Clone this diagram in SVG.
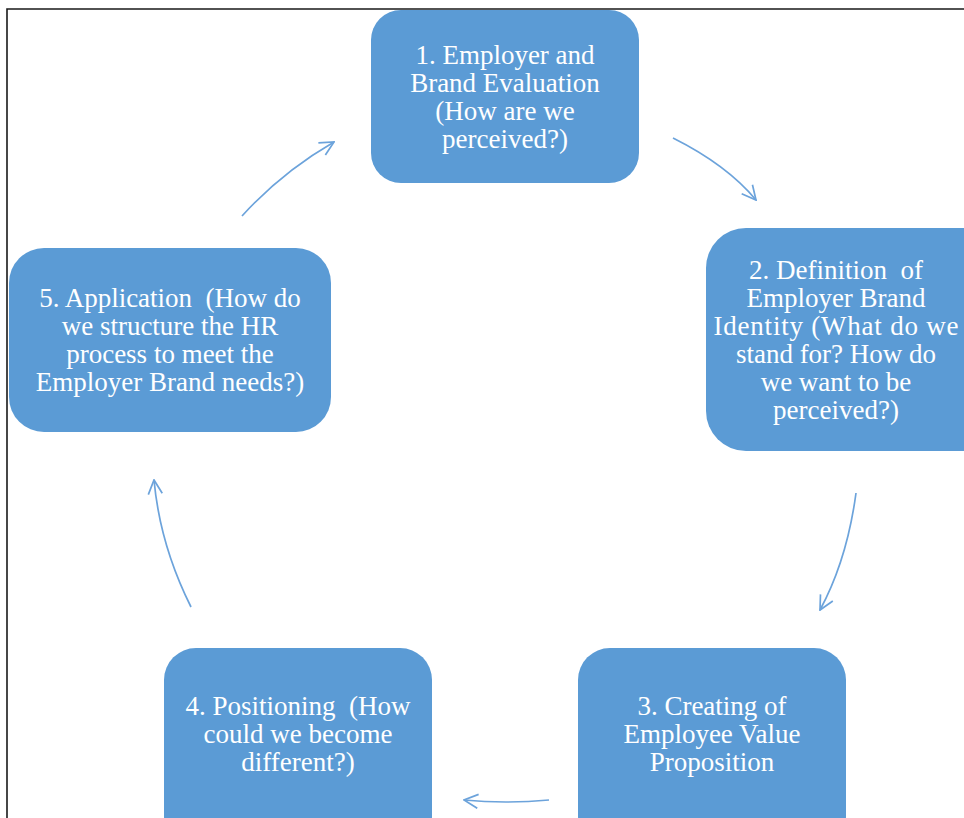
<svg xmlns="http://www.w3.org/2000/svg" width="964" height="818" viewBox="0 0 964 818">
<defs>
<style>
.box{fill:#5B9BD5;}
.t{fill:#ffffff;font-family:"Liberation Serif","Times New Roman",serif;font-size:27px;text-anchor:middle;}
.c{fill:none;stroke:#6CA3DB;stroke-width:1.7;marker-end:url(#ah);}
.frame{fill:none;stroke:#1a1a1a;stroke-width:1.6;}
</style>
<marker id="ah" viewBox="0 0 16 16" refX="15" refY="8" markerWidth="16" markerHeight="16" markerUnits="userSpaceOnUse" orient="auto">
<path d="M1,1 L15,8 L1,15" fill="none" stroke="#6CA3DB" stroke-width="1.7"/>
</marker>
</defs>
<rect width="964" height="818" fill="#ffffff"/>
<path class="frame" d="M7,818 L7,9 L964,9"/>
<g id="node1">
<rect class="box" x="371" y="10" width="268" height="173" rx="30"/>
<text class="t" x="505" y="64">1. Employer and</text>
<text class="t" x="505" y="92">Brand Evaluation</text>
<text class="t" x="505" y="120">(How are we</text>
<text class="t" x="505" y="148">perceived?)</text>
</g>
<g id="node2">
<rect class="box" x="706" y="228" width="300" height="223" rx="40"/>
<text class="t" x="836" y="279" xml:space="preserve">2. Definition  of</text>
<text class="t" x="836" y="307">Employer Brand</text>
<text class="t" x="836" y="335" textLength="245">Identity (What do we</text>
<text class="t" x="836" y="363">stand for? How do</text>
<text class="t" x="836" y="391">we want to be</text>
<text class="t" x="836" y="419">perceived?)</text>
</g>
<g id="node3">
<rect class="box" x="578" y="648" width="268" height="200" rx="32"/>
<text class="t" x="712" y="715">3. Creating of</text>
<text class="t" x="712" y="743">Employee Value</text>
<text class="t" x="712" y="771">Proposition</text>
</g>
<g id="node4">
<rect class="box" x="164" y="648" width="268" height="200" rx="32"/>
<text class="t" x="298" y="715" xml:space="preserve">4. Positioning  (How</text>
<text class="t" x="298" y="743">could we become</text>
<text class="t" x="298" y="771">different?)</text>
</g>
<g id="node5">
<rect class="box" x="9" y="248" width="322" height="184" rx="35"/>
<text class="t" x="170" y="307" xml:space="preserve">5. Application  (How do</text>
<text class="t" x="170" y="335">we structure the HR</text>
<text class="t" x="170" y="363">process to meet the</text>
<text class="t" x="170" y="391">Employer Brand needs?)</text>
</g>
<g id="connectors">
<path class="c" d="M242,216 Q282,172 334,142"/>
<path class="c" d="M673,138 Q727,165 756,200"/>
<path class="c" d="M856,493 Q847,560 820,610"/>
<path class="c" d="M549,800 Q505,804 464,800"/>
<path class="c" d="M191,607 Q160,545 154,480"/>
</g>
</svg>
